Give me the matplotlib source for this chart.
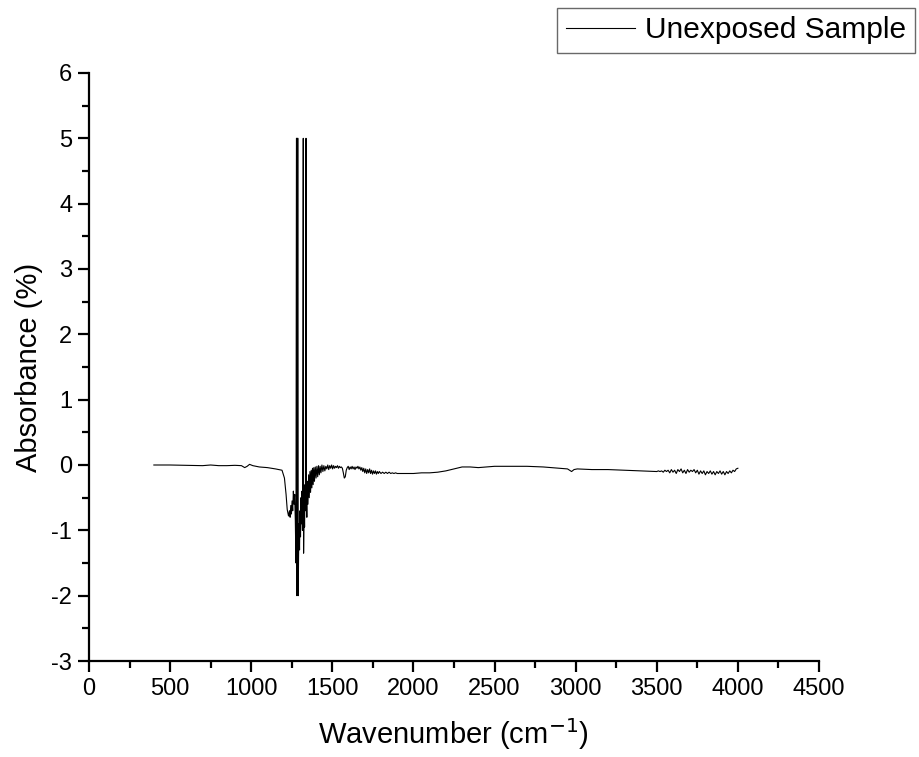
import numpy as np
import matplotlib.pyplot as plt
from matplotlib.ticker import MultipleLocator

plt.rcParams['font.family'] = ['Liberation Sans', 'DejaVu Sans']
plt.rcParams['axes.unicode_minus'] = False

# wavenumber (cm-1) and absorbance (%)
wavenumber = [
    400, 500, 600, 700, 750, 800, 850, 900, 940, 960, 975, 990, 1010, 1050,
    1100, 1150, 1190, 1205, 1215, 1222, 1230, 1236, 1240, 1244, 1248, 1252,
    1256, 1260, 1264, 1268, 1272, 1276, 1279, 1281, 1282, 1284, 1286, 1288,
    1290, 1292, 1295, 1298, 1301, 1304, 1307, 1310, 1313, 1316, 1319, 1321,
    1323, 1326, 1329, 1332, 1335, 1338, 1340, 1343, 1346, 1350, 1354, 1358,
    1362, 1366, 1370, 1374, 1378, 1382, 1386, 1390, 1395, 1400, 1405, 1410,
    1415, 1420, 1425, 1430, 1436, 1442, 1448, 1454, 1460, 1466, 1472, 1478,
    1484, 1490, 1496, 1502, 1508, 1514, 1520, 1526, 1532, 1538, 1544, 1550,
    1556, 1562, 1568, 1574, 1580, 1586, 1592, 1598, 1604, 1610, 1616, 1622,
    1628, 1634, 1640, 1646, 1652, 1658, 1664, 1670, 1676, 1682, 1688, 1694,
    1700, 1706, 1712, 1718, 1724, 1730, 1736, 1742, 1748, 1754, 1760, 1766,
    1772, 1778, 1784, 1790, 1800, 1810, 1820, 1830, 1840, 1850, 1860, 1870,
    1880, 1890, 1900, 1950, 2000, 2050, 2100, 2150, 2200, 2250, 2300, 2350,
    2400, 2450, 2500, 2600, 2700, 2800, 2900, 2950, 2975, 2990, 3010, 3100,
    3200, 3300, 3400, 3500, 3510, 3520, 3530, 3540, 3550, 3560, 3570, 3580,
    3590, 3600, 3610, 3620, 3630, 3640, 3650, 3660, 3670, 3680, 3690, 3700,
    3710, 3720, 3730, 3740, 3750, 3760, 3770, 3780, 3790, 3800, 3810, 3820,
    3830, 3840, 3850, 3860, 3870, 3880, 3890, 3900, 3910, 3920, 3930, 3940,
    3950, 3960, 3970, 3980, 3990, 4000,
]
absorbance = [
    0.0, 0.0, -0.005, -0.01, 0.0, -0.01, -0.01, -0.005, -0.01, -0.04, -0.02,
    0.01, -0.01, -0.03, -0.04, -0.06, -0.08, -0.2, -0.45, -0.68, -0.78, -0.7,
    -0.8, -0.62, -0.75, -0.55, -0.7, -0.4, -0.6, -0.45, -0.85, -1.5, 5.0,
    5.0, -2.0, -1.2, 5.0, 5.0, -2.0, -1.4, -0.9, -1.3, -0.7, -1.1, -0.5,
    -0.9, -0.4, -1.0, 1.9, 5.0, -1.35, -0.6, -0.95, -0.3, -0.7, 5.0, -0.5,
    -0.8, -0.25, -0.6, -0.15, -0.5, -0.1, -0.42, -0.08, -0.35, -0.05, -0.3,
    -0.04, -0.25, -0.03, -0.2, -0.02, -0.18, -0.01, -0.15, -0.02, -0.12,
    0.0, -0.1, -0.01, -0.09, -0.02, -0.06, 0.0, -0.07, -0.01, -0.05, 0.0,
    -0.06, -0.01, -0.05, -0.02, -0.04, -0.01, -0.05, -0.02, -0.04, -0.03,
    -0.05, -0.12, -0.2, -0.18, -0.08, -0.04, -0.02, -0.07, -0.03, -0.06,
    -0.02, -0.06, -0.03, -0.07, -0.03, -0.05, -0.02, -0.06, -0.03, -0.08,
    -0.04, -0.1, -0.05, -0.12, -0.06, -0.13, -0.07, -0.12, -0.06, -0.13,
    -0.08, -0.14, -0.09, -0.13, -0.09, -0.14, -0.1, -0.13, -0.1, -0.13,
    -0.11, -0.13, -0.11, -0.13, -0.11, -0.13, -0.12, -0.13, -0.12, -0.13,
    -0.13, -0.13, -0.12, -0.12, -0.11, -0.09, -0.06, -0.03, -0.03, -0.04,
    -0.03, -0.02, -0.02, -0.02, -0.03, -0.05, -0.06, -0.1, -0.07, -0.06,
    -0.07, -0.07, -0.08, -0.09, -0.1, -0.09, -0.1, -0.09, -0.11, -0.08,
    -0.1, -0.08, -0.12, -0.07, -0.11, -0.08, -0.13, -0.07, -0.1, -0.06,
    -0.12, -0.08, -0.13, -0.07, -0.11, -0.08, -0.1, -0.07, -0.12, -0.08,
    -0.14, -0.09, -0.13, -0.09, -0.15, -0.1, -0.13, -0.09, -0.14, -0.1,
    -0.15, -0.1, -0.13, -0.09, -0.14, -0.1, -0.15, -0.1, -0.13, -0.09,
    -0.12, -0.08, -0.1, -0.06, -0.05,
]
series_label = 'Unexposed Sample'

fig = plt.figure(figsize=(9.2, 7.57), dpi=100)
ax = fig.add_axes([0.0967, 0.1268, 0.7935, 0.7768])

ax.plot(wavenumber, absorbance, color='black', lw=0.8, label=series_label)

ax.set_xlim(0, 4500)
ax.set_ylim(-3, 6)
ax.xaxis.set_major_locator(MultipleLocator(500))
ax.xaxis.set_minor_locator(MultipleLocator(250))
ax.yaxis.set_major_locator(MultipleLocator(1))
ax.yaxis.set_minor_locator(MultipleLocator(0.5))

for side in ['top', 'right']:
    ax.spines[side].set_visible(False)
for side in ['left', 'bottom']:
    ax.spines[side].set_linewidth(1.6)

ax.tick_params(which='major', direction='out', length=8, width=1.6,
               labelsize=17, pad=4)
ax.tick_params(which='minor', direction='out', length=5, width=1.6)

ax.set_xlabel('Wavenumber (cm$^{\\mathsf{-1}}$)', fontsize=21, labelpad=12)
ax.set_ylabel('Absorbance (%)', fontsize=21, labelpad=6)

leg = fig.legend(loc='upper right', bbox_to_anchor=(0.998, 0.994),
                 fontsize=21.5, frameon=True, fancybox=False, handlelength=2.3,
                 borderpad=0.3, handletextpad=0.35, borderaxespad=0.1)
leg.get_frame().set_edgecolor('#444444')
leg.get_frame().set_linewidth(1.0)

fig.savefig('out.png', dpi=100)
